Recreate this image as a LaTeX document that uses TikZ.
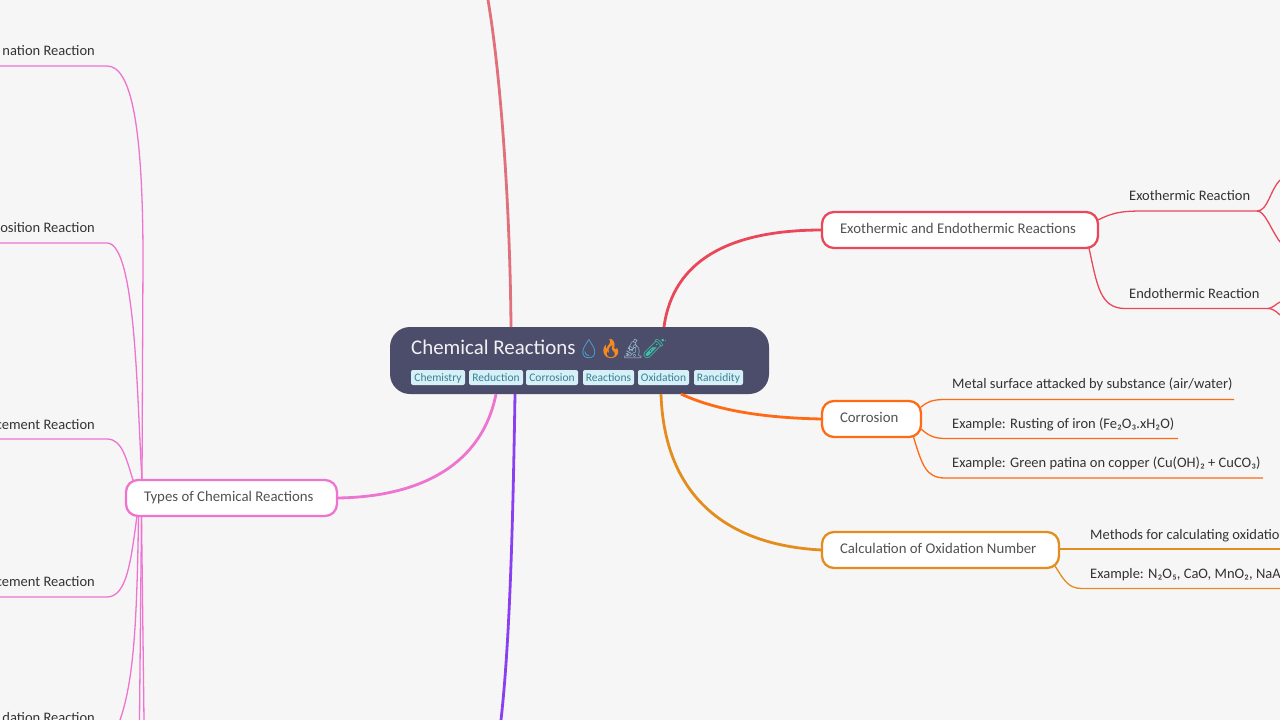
\documentclass[tikz,border=0pt]{standalone}
\usepackage{fontspec}
\setmainfont{Carlito}
\newfontfamily\emojifont{Noto Emoji}
\definecolor{paper}{HTML}{F6F6F6}
\definecolor{rootfill}{HTML}{4C4C6B}
\definecolor{tagfill}{HTML}{D5F0F7}
\definecolor{tagtext}{HTML}{3C7F95}
\definecolor{redc}{HTML}{E9485A}
\definecolor{orangec}{HTML}{FF6A14}
\definecolor{amberc}{HTML}{E38D1F}
\definecolor{pinkc}{HTML}{EE74D0}
\definecolor{purplec}{HTML}{8A3FF0}
\definecolor{rosec}{HTML}{E0707A}
\definecolor{dropc}{HTML}{4FB3E8}
\definecolor{firec}{HTML}{F58A1F}
\definecolor{scopec}{HTML}{8FB3C4}
\definecolor{tubec}{HTML}{3CC4A8}
\tikzset{
  branch/.style={draw, fill=white, rounded corners=12pt, line width=2.3pt, font=\fontsize{14.8}{14.8}\selectfont,
    text=black!68, align=flush left, text width=#1-36pt, inner xsep=18pt, inner ysep=0pt, minimum height=36pt, text height=9pt, text depth=3pt, outer sep=0pt},
  leaf/.style={inner sep=0pt, text=black!80, font=\fontsize{14.5}{14.5}\selectfont},
  tagbox/.style={fill=tagfill, text=tagtext, rounded corners=2pt, inner sep=0pt, minimum height=15pt, text height=9pt, text depth=1.5pt, font=\fontsize{11.5}{11.5}\selectfont},
  thick1/.style={line width=2.8pt},
  thin2/.style={line width=1.3pt}
}
\begin{document}
\begin{tikzpicture}[x=1pt, y=-1pt]
\useasboundingbox[fill=paper](0,0) rectangle (1280,720);

\node[fill=rootfill, rounded corners=20pt, minimum width=379pt, minimum height=67pt, inner sep=0pt, outer sep=0pt](root) at (579.5,360.5){};
\node[anchor=base west, inner sep=0pt, text=white!92!rootfill, font=\fontsize{20.9}{20.9}\selectfont](title) at (411,354){Chemical Reactions};
\foreach \emojiname/\emojix/\emojicol/\emojichar in {drop/589/dropc/💧, fire/611/firec/🔥, scope/633/scopec/🔬, tube/655/tubec/🧪}
{
    \node[inner sep=0pt, text=\emojicol, font=\emojifont\fontsize{19}{19}\selectfont](\emojiname) at (\emojix,349.5){\emojichar};
}
\foreach \tagname/\tagx/\tagw in {Chemistry/438/54, Reduction/496/54, Corrosion/552/52, Reactions/608.5/51, Oxidation/663.5/51, Rancidity/718.5/49}
{
    \node[tagbox, minimum width=\tagw pt](tag\tagname) at (\tagx,377.5){\tagname};
}

\node[branch=276pt, draw=redc](exo) at (960,230){Exothermic and Endothermic Reactions};
\node[branch=99pt, draw=orangec](corrosion) at (871.5,419){Corrosion};
\node[branch=237pt, draw=amberc](calc) at (940.5,550){Calculation of Oxidation Number};
\node[branch=211pt, draw=pinkc](types) at (231.5,498){Types of Chemical Reactions};

\node[leaf, anchor=base west](exoleaf) at (1129,200){Exothermic Reaction};
\node[leaf, anchor=base west](endoleaf) at (1129,298){Endothermic Reaction};
\node[leaf, anchor=base west](metal) at (952,388.5){Metal surface attacked by substance (air/water)};
\node[leaf, anchor=base west](rust) at (952,428){Example: Rusting of iron (Fe₂O₃.xH₂O)};
\node[leaf, anchor=base west](patina) at (952,467){Example: Green patina on copper (Cu(OH)₂ + CuCO₃)};
\node[leaf, anchor=base west](methods) at (1090,539){Methods for calculating oxidatio};
\node[leaf, anchor=base west](example) at (1090,578){Example: N₂O₅, CaO, MnO₂, NaAl};
\node[leaf, anchor=base east](combo) at (95,55){nation Reaction};
\node[leaf, anchor=base east](decomp) at (95,232){osition Reaction};
\node[leaf, anchor=base east](displace) at (95,429){cement Reaction};
\node[leaf, anchor=base east](double) at (95,586){cement Reaction};
\node[leaf, anchor=base east](oxid) at (95,722){dation Reaction};

% free ends at the edge of the page
\coordinate (topend) at (488,0);
\coordinate (botend) at (501,720);
\coordinate (exoj) at (1257,211);
\coordinate (endoj) at (1268,308.5);
\coordinate (edgeA) at (1280,180);
\coordinate (edgeB) at (1280,242);
\coordinate (edgeC) at (1280,302);
\coordinate (edgeD) at (1280,315);
\coordinate (calcA) at (1280,549);
\coordinate (calcB) at (1280,588.5);
\coordinate (metalend) at (1234,399.5);
\coordinate (rustend) at (1178,438.5);
\coordinate (patinaend) at (1263,478);
\coordinate (leftA) at (0,66);
\coordinate (leftB) at (0,243);
\coordinate (leftC) at (0,439);
\coordinate (leftD) at (0,597);
\coordinate (downA) at (120,720);
\coordinate (downB) at (139.5,720);
\coordinate (downC) at (144,720);

\draw[thick1, rosec]([xshift=-68.5pt]root.north) .. controls (510,200) and (500,70) .. (topend);
\draw[thick1, purplec]([xshift=-64.5pt]root.south) .. controls (513,520) and (510,640) .. (botend);
\draw[thick1, redc]([xshift=84.5pt]root.north) .. controls (673,260) and (730,230) .. (exo.west);
\draw[thick1, orangec]([xshift=101.5pt]root.south) .. controls (720,412) and (770,418) .. (corrosion.west);
\draw[thick1, amberc]([xshift=81.5pt]root.south) .. controls (664,490) and (720,545) .. (calc.west);
\draw[thick1, pinkc]([xshift=-83.5pt]root.south) .. controls (482,465) and (420,497) .. (types.east);

\begin{scope}[thin2, redc]
\draw([yshift=10pt]exo.east) .. controls (1112,213) and (1120,211) .. (1143,211) -- (exoj);
\draw([xshift=-9pt]exo.south east) .. controls (1097,285) and (1100,308.5) .. (1125,308.5) -- (endoj);
\draw(exoj) .. controls (1268,211) and (1270,190) .. (edgeA);
\draw(exoj) .. controls (1265,211) and (1270,228) .. (edgeB);
\draw(endoj) .. controls (1272,308.5) and (1276,304) .. (edgeC);
\draw(endoj) .. controls (1272,308.5) and (1276,311) .. (edgeD);
\end{scope}

\begin{scope}[thin2, orangec]
\draw([yshift=12pt]corrosion.east) .. controls (927,402) and (932,399.5) .. (945,399.5) -- (metalend);
\draw([yshift=-10pt]corrosion.east) .. controls (927,434) and (932,438.5) .. (945,438.5) -- (rustend);
\draw([xshift=-7.5pt]corrosion.south east) .. controls (922,465) and (926,478) .. (945,478) -- (patinaend);
\end{scope}

\begin{scope}[thin2, amberc]
\draw([yshift=1pt]calc.east) .. controls (1100,549) and (1200,549) .. (calcA);
\draw([xshift=-4pt, yshift=2pt]calc.south east) .. controls (1064,580) and (1068,588.5) .. (1082,588.5) -- (calcB);
\end{scope}

\begin{scope}[thin2, pinkc]
\draw([xshift=16pt]types.north west) -- (143,260) .. controls (143,130) and (132,66) .. (107,66) -- (leftA);
\draw([xshift=16pt]types.north west) .. controls (137,400) and (136,243) .. (107,243) -- (leftB);
\draw([xshift=7pt]types.north west) .. controls (126,458) and (122,439) .. (107,439) -- (leftC);
\draw([xshift=11pt]types.south west) .. controls (131,560) and (127,597) .. (107,597) -- (leftD);
\draw([xshift=12.5pt]types.south west) .. controls (137,620) and (134,680) .. (downA);
\draw([xshift=15.5pt]types.south west) -- (downB);
\draw([xshift=15.5pt]types.south west) -- (downC);
\end{scope}
\end{tikzpicture}
\end{document}
